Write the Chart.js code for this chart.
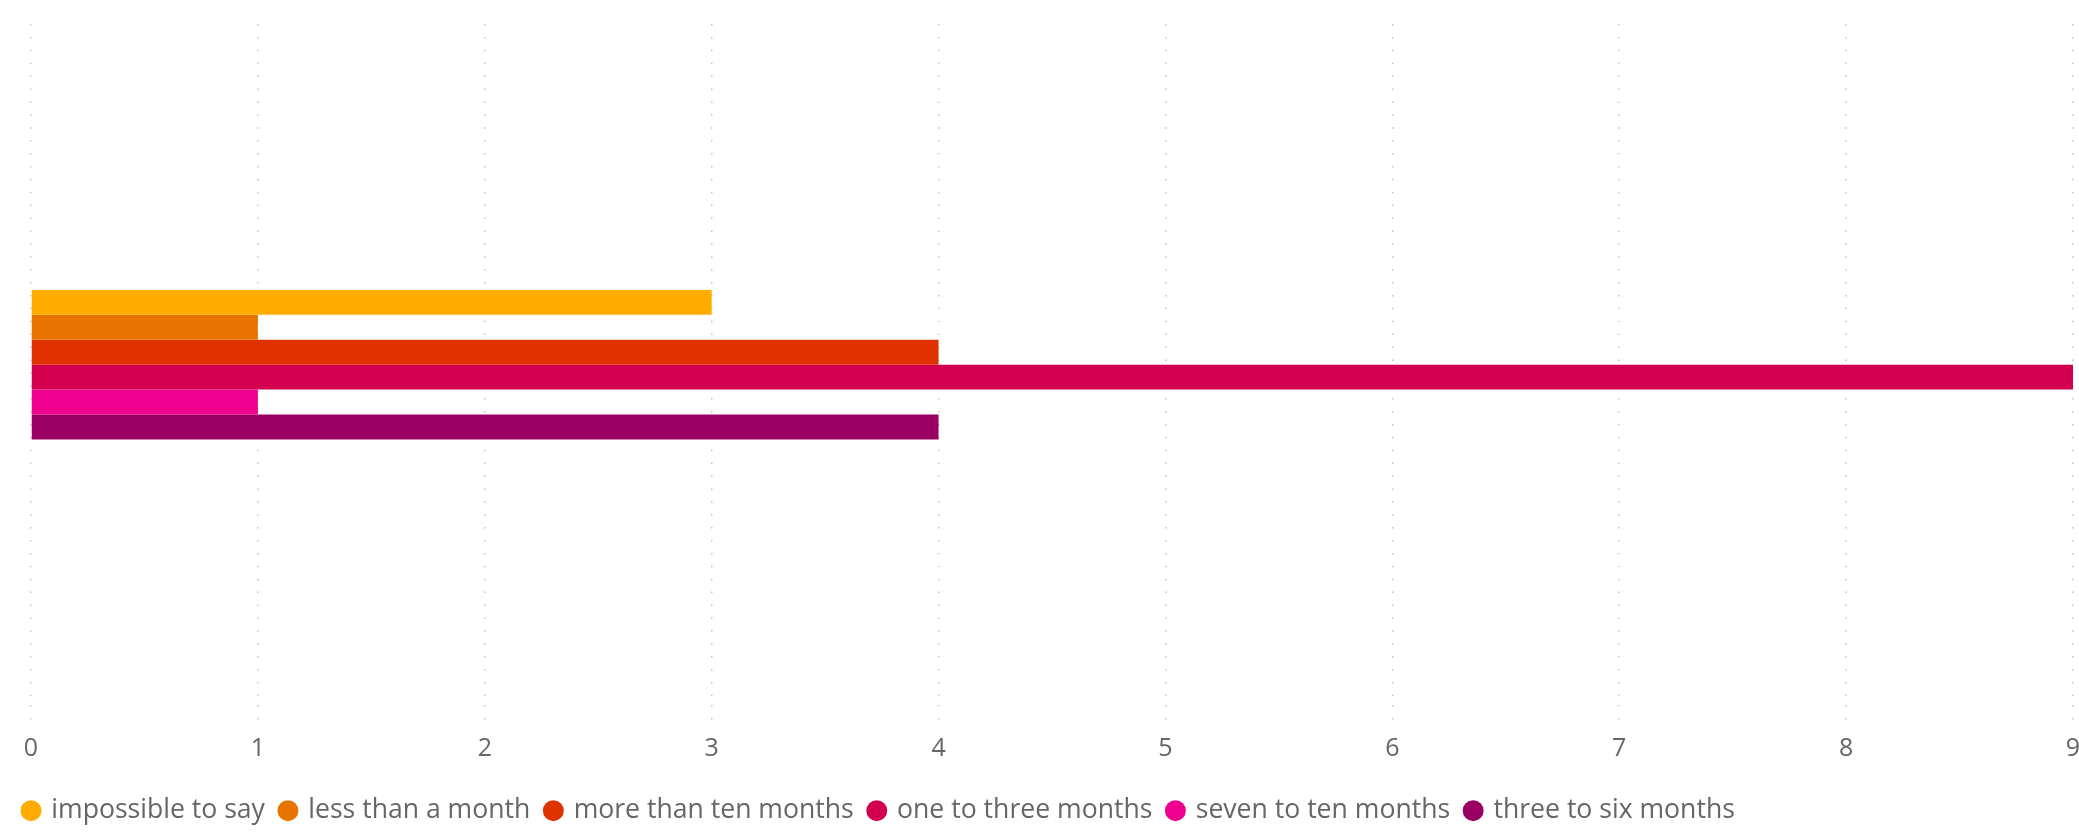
<!DOCTYPE html>
<html>
<head>
<meta charset="utf-8">
<script src="https://cdn.jsdelivr.net/npm/chart.js@4/dist/chart.umd.min.js"></script>
<style>
  html, body { margin: 0; padding: 0; background: #fff; }
  #wrap { width: 2079px; height: 834px; position: relative; }
</style>
</head>
<body>
<div id="wrap"><canvas id="durationChart"></canvas></div>
<script>
const categories = [""];
const seriesNames = [
  "impossible to say",
  "less than a month",
  "more than ten months",
  "one to three months",
  "seven to ten months",
  "three to six months"
];
const seriesValues = [3, 1, 4, 9, 1, 4];
const seriesColors = ["#FFAB00", "#E87400", "#E03200", "#D2004F", "#F0008E", "#990062"];
const xMax = 9;

const fontFamily = "'Open Sans', 'Noto Sans', sans-serif";
const textColor = "#666666";

const datasets = seriesNames.map((name, i) => ({
  label: name,
  data: [seriesValues[i]],
  backgroundColor: seriesColors[i],
  borderWidth: 0,
  categoryPercentage: 0.2194,
  barPercentage: 1
}));

new Chart(document.getElementById("durationChart"), {
  type: "bar",
  data: { labels: categories, datasets: datasets },
  options: {
    indexAxis: "y",
    responsive: true,
    maintainAspectRatio: false,
    animation: false,
    layout: { padding: { top: 24, left: 8, right: 6, bottom: 0 } },
    scales: {
      x: {
        min: 0,
        max: xMax,
        ticks: {
          stepSize: 1,
          padding: 10,
          color: textColor,
          font: { family: fontFamily, size: 25 }
        },
        grid: {
          color: "rgba(190,190,190,0.9)",
          lineWidth: 1.5,
          drawTicks: true,
          tickLength: 18,
          tickColor: "rgba(190,190,190,0.9)",
          tickBorderDash: [1.5, 11.4]
        },
        border: { display: false, dash: [1.5, 11.4] },
        afterFit: (scale) => {
          scale.height = 76;
          // let the chart run right up to the edge like the original
          scale.paddingLeft = 0;
          scale.paddingRight = 0;
        }
      },
      y: {
        ticks: { display: false },
        grid: { display: false },
        border: { display: false },
        afterFit: (scale) => { scale.width = 23; }
      }
    },
    plugins: {
      legend: {
        position: "bottom",
        align: "start",
        labels: {
          usePointStyle: true,
          pointStyle: "circle",
          boxWidth: 14,
          boxHeight: 14.8,
          padding: 16,
          color: textColor,
          font: { family: fontFamily, size: 26.6 }
        }
      },
      tooltip: { enabled: false }
    }
  }
});
</script>
</body>
</html>
